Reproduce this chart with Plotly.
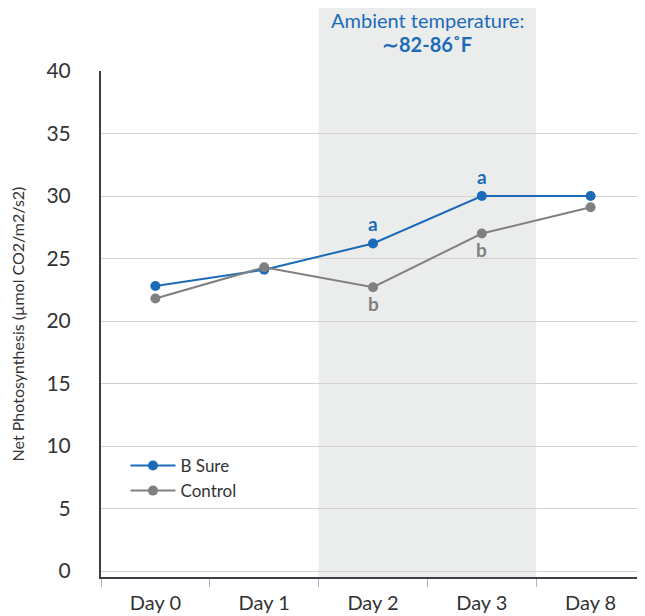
import plotly.graph_objects as go

categories = ["Day 0", "Day 1", "Day 2", "Day 3", "Day 8"]
bsure = [22.8, 24.1, 26.2, 30.0, 30.0]
control = [21.8, 24.3, 22.7, 27.0, 29.1]
bsure_letters = ["", "", "a", "a", ""]
control_letters = ["", "", "b", "b", ""]
y_ticks = [0, 5, 10, 15, 20, 25, 30, 35, 40]

BLUE = "#1c6bb8"
GRAY = "#808080"
FONT = "Lato"

# page body has an 8px margin; figure sized to fill the rest of the window
W, H = 637, 608
L, T, B = 93, 63, 39
PH = H - T - B

fig = go.Figure()
fig.add_trace(go.Scatter(
    x=categories, y=bsure, mode="lines+markers", name="B Sure",
    line=dict(color=BLUE, width=2), marker=dict(color=BLUE, size=10),
))
fig.add_trace(go.Scatter(
    x=categories, y=control, mode="lines+markers", name="Control",
    line=dict(color=GRAY, width=2), marker=dict(color=GRAY, size=10),
))

for c, v, t in zip(categories, bsure, bsure_letters):
    if t:
        fig.add_annotation(x=c, y=v, text=t, showarrow=False, yshift=20, yanchor="middle",
                           font=dict(family=FONT, size=19, color=BLUE, weight="bold"))
for c, v, t in zip(categories, control, control_letters):
    if t:
        fig.add_annotation(x=c, y=v, text=t, showarrow=False, yshift=-16, yanchor="middle",
                           font=dict(family=FONT, size=19, color=GRAY, weight="bold"))

# shaded period (Day 2 - Day 3)
fig.add_shape(type="rect", xref="x", yref="paper", x0=1.5, x1=3.5, y0=0, y1=1 + T / PH,
              fillcolor="#ebeded", line=dict(width=0), layer="below")
fig.add_annotation(xref="x", yref="paper", x=2.5, y=1 + 51 / PH, yanchor="middle",
                   text="Ambient temperature:",
                   showarrow=False, font=dict(family=FONT, size=20, color=BLUE))
fig.add_annotation(xref="x", yref="paper", x=2.5, y=1 + 27 / PH, yanchor="middle",
                   text="∼82-86˚F",
                   showarrow=False, font=dict(family=FONT, size=20, color=BLUE, weight="bold"))

fig.update_layout(
    width=W, height=H,
    margin=dict(l=L, r=0, t=T, b=B, autoexpand=False),
    paper_bgcolor="white", plot_bgcolor="rgba(0,0,0,0)",
    font=dict(family=FONT, color="#333333"),
    showlegend=True,
    legend=dict(x=0.045, y=0.255, xanchor="left", yanchor="top", itemwidth=45,
                bgcolor="rgba(0,0,0,0)", font=dict(family=FONT, size=17, color="#333333"),
                tracegroupgap=0),
    xaxis=dict(
        range=[-0.5, 4.5], tickmode="array", tickvals=list(range(5)), ticktext=categories,
        showgrid=False, zeroline=False, showline=True, linecolor="#3a4046", linewidth=2,
        ticks="outside", tickson="boundaries", ticklen=8, tickcolor="#b0b0b0",
        ticklabelstandoff=7, automargin=False,
        tickfont=dict(family=FONT, size=20, color="#333333"),
    ),
    yaxis=dict(
        range=[-0.48, 40], tickvals=y_ticks, showgrid=True, gridcolor="#d2d2d2", gridwidth=1,
        zeroline=False, showline=True, linecolor="#3a4046", linewidth=2, ticks="",
        ticklabelstandoff=24, automargin=False,
        tickfont=dict(family=FONT, size=21, color="#333333"),
        title=dict(text="Net Photosynthesis (µmol CO2/m2/s2)", standoff=22,
                   font=dict(family=FONT, size=16, color="#333333")),
    ),
)

fig.write_html("out.html")
